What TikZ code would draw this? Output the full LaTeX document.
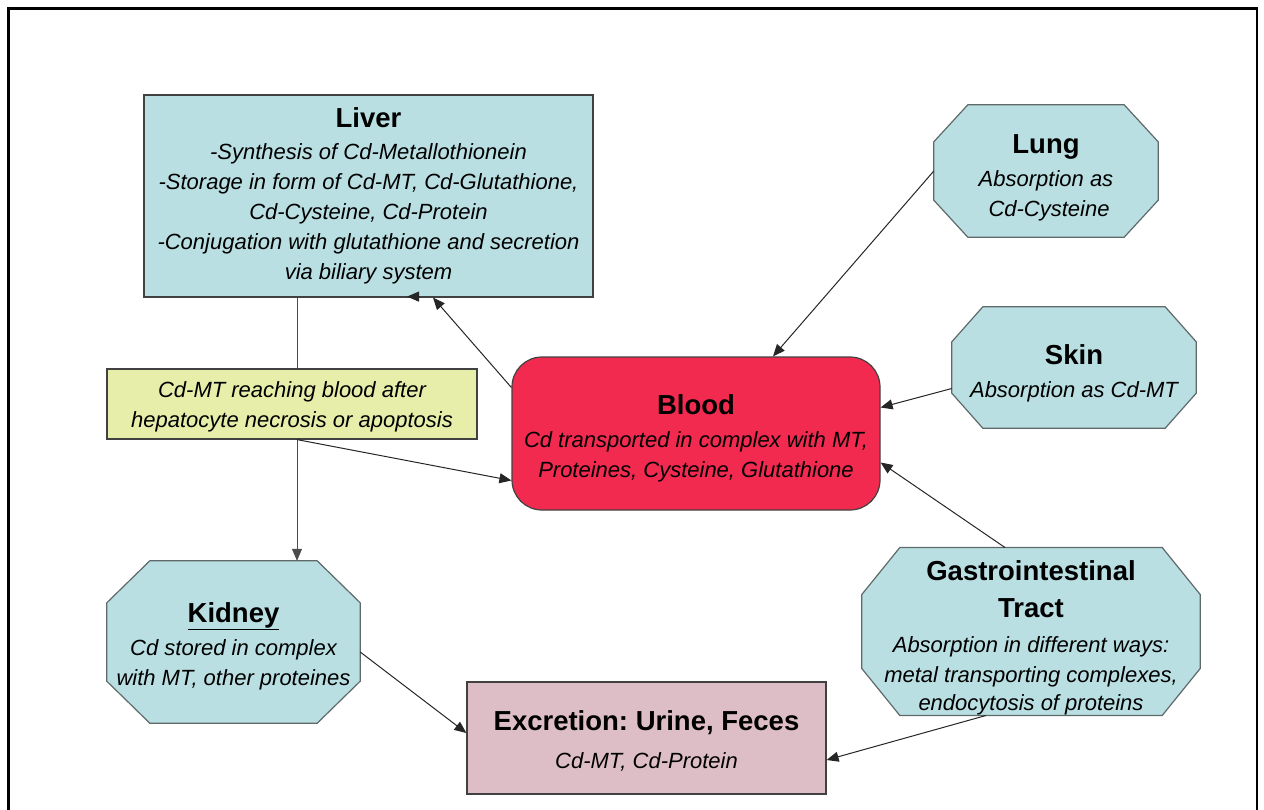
\documentclass[tikz,border=0pt]{standalone}
\usepackage{fontspec}
\setmainfont{Liberation Sans}
\usetikzlibrary{arrows.meta,backgrounds,calc}
\frenchspacing
\definecolor{lblue}{RGB}{185,223,226}
\definecolor{bloodred}{RGB}{242,42,80}
\definecolor{lyellow}{RGB}{230,238,170}
\definecolor{lpink}{RGB}{221,190,198}
\definecolor{edgegray}{RGB}{65,65,65}
\definecolor{octedge}{RGB}{95,105,105}
\newcommand\ttl[1]{{\upshape\bfseries\fontsize{27.5}{30}\selectfont #1}}
\newcommand\dn[1]{\rule{0pt}{#1}}
\newcommand\octpath[3]{%
  \begin{pgfonlayer}{background}
  \path[octa] ([xshift=#2]#1.north west) -- ([xshift=-#2]#1.north east)
    -- ([yshift=-#3]#1.north east) -- ([yshift=#3]#1.south east)
    -- ([xshift=-#2]#1.south east) -- ([xshift=#2]#1.south west)
    -- ([yshift=#3]#1.south west) -- ([yshift=-#3]#1.north west) -- cycle;
  \end{pgfonlayer}}
\tikzset{
  txt/.style={inner sep=0pt, align=center, font=\fontsize{22}{30}\selectfont\itshape\frenchspacing},
  boxed/.style={txt, rectangle, draw=edgegray, line width=1.2pt},
  octnode/.style={txt, rectangle},
  octa/.style={draw=octedge, line width=1.2pt, fill=lblue},
  conn/.style={draw=black!85, line width=1pt, -{Triangle[length=12pt,width=10pt]}},
}
\begin{document}
\begin{tikzpicture}[x=1pt,y=-1pt]
\useasboundingbox (0,0) rectangle (1264,809);
\draw[line width=2.5pt] (8.5,830) -- (8.5,8.5) -- (1257,8.5) -- (1257,830);

\node[boxed, fill=lblue, minimum width=449pt, minimum height=202pt] (liver) at (368.5,196)
  {\ttl{Liver}\\[2pt]
   -Synthesis of Cd-Metallothionein\\
   -Storage in form of Cd-MT, Cd-Glutathione,\\
   Cd-Cysteine, Cd-Protein\\
   -Conjugation with glutathione and secretion\\
   via biliary system};

\node[octnode, minimum width=224pt, minimum height=132pt] (lung) at (1046,171)
  {\dn{32pt}\ttl{Lung}\\[3pt] Absorption as\\ \ Cd-Cysteine};
\octpath{lung}{34pt}{37pt}

\node[octnode, minimum width=244pt, minimum height=121pt] (skin) at (1074,367.5)
  {\dn{32pt}\ttl{Skin}\\[3pt] Absorption as Cd-MT};
\octpath{skin}{31pt}{35pt}

\node[boxed, fill=bloodred, rounded corners=30pt, minimum width=368pt, minimum height=153pt] (blood) at (696,433.5)
  {\dn{30pt}\ttl{Blood}\\[3pt] Cd transported in complex with MT,\\ Proteines, Cysteine, Glutathione};

\node[octnode, minimum width=253pt, minimum height=162pt] (kidney) at (233.5,642)
  {\dn{28pt}\ttl{\underline{Kidney}}\\[3pt] Cd stored in complex\\ with MT, other proteines};
\octpath{kidney}{43pt}{42pt}

\node[boxed, fill=lpink, minimum width=359pt, minimum height=112pt] (excr) at (646.5,738)
  {\dn{25pt}\ttl{Excretion: Urine, Feces}\\[8pt] Cd-MT, Cd-Protein};

\node[octnode, minimum width=338pt, minimum height=163pt] (gi) at (1031,631.5)
  {\dn{33pt}\ttl{Gastrointestinal}\\[7pt] \ttl{Tract}\\[5pt] Absorption in different ways:\\ metal transporting complexes,\\[-2pt] endocytosis of proteins};
\octpath{gi}{38pt}{47pt}

% liver to kidney, behind the yellow box
\draw[conn, draw=black!70] ([xshift=-71.5pt]liver.south) -- ([xshift=63.5pt]kidney.north);

\node[boxed, fill=lyellow, minimum width=370pt, minimum height=70pt] (yel) at (292,404)
  {\dn{22pt}Cd-MT reaching blood after\\ hepatocyte necrosis or apoptosis};

\draw[conn] (lung.west) -- ([xshift=77pt]blood.north);
\draw[conn] ([yshift=-21pt]skin.west) -- ([yshift=26pt]blood.east);
\draw[conn] ([xshift=-26pt]gi.north) -- ([yshift=-29pt]blood.east);
\draw[conn] ([xshift=-45pt]gi.south) -- ([yshift=-22pt]excr.east);
\draw[conn] ([yshift=-10pt]kidney.east) -- ([yshift=5pt]excr.west);
\draw[conn] ([yshift=46pt]blood.west) -- ([xshift=64.5pt]liver.south);
\draw[conn] ([xshift=50pt,yshift=1pt]liver.south) -- ([xshift=38.5pt,yshift=1pt]liver.south);
\draw[conn] ([xshift=5pt]yel.south) -- ([yshift=-47pt]blood.west);
\end{tikzpicture}
\end{document}
